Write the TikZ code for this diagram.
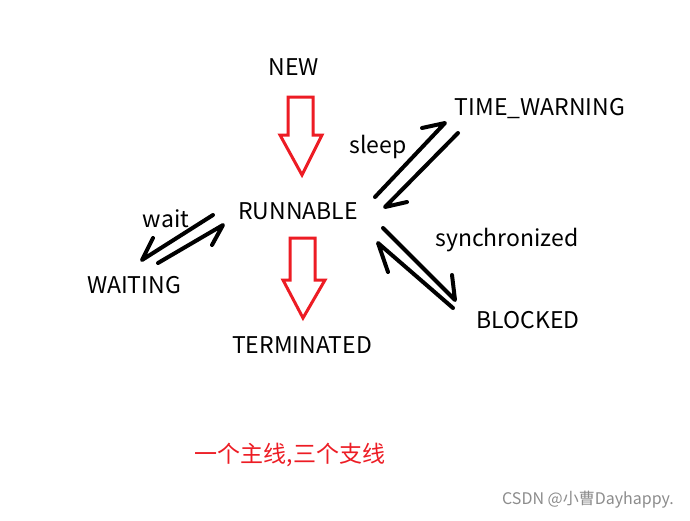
\documentclass[tikz,border=0pt]{standalone}
\usepackage{fontspec}
\setmainfont{Noto Sans CJK SC}
\newfontfamily\cjk{Noto Sans CJK SC}
\begin{document}
\begin{tikzpicture}[x=1pt,y=-1pt,
  lbl/.style={inner sep=0pt,font=\fontsize{23}{26}\selectfont},
  harp/.style={line width=4pt,line cap=round,line join=round},
  hollow/.style={draw={rgb,255:red,237;green,28;blue,36},line width=3pt,line join=miter}]
\useasboundingbox (0,0) rectangle (690,520);
\fill[white] (0,0) rectangle (690,520);
\node[lbl] (new) at (294,67) {NEW};
\node[lbl] (tw) at (540,109) {TIME\_WARNING};
\node[lbl] (sleep) at (378,147) {sleep};
\node[lbl] (run) at (298,211) {RUNNABLE};
\node[lbl] (wait) at (166,219) {wait};
\node[lbl] (wt) at (134,285) {WAITING};
\node[lbl] (sync) at (507,240) {synchronized};
\node[lbl] (blk) at (528,320) {BLOCKED};
\node[lbl] (term) at (302,345) {TERMINATED};
\node[lbl,text={rgb,255:red,237;green,28;blue,36}] (note) at (290,455) {\cjk 一个主线,三个支线};
\node[inner sep=0pt,text=gray!90,font=\fontsize{16}{18}\selectfont] (wm) at (588,500) {CSDN @小曹Dayhappy.};
% red hollow arrows
\draw[hollow] (288,97)--(313,97)--(313,135)--(322,135)--(302,175)--(280,135)--(288,135)--cycle;
\draw[hollow] (290,238)--(315,238)--(315,280)--(325,280)--(303,318)--(283,280)--(290,280)--cycle;
% black harpoons
\draw[harp] (375,197)--(445,123)--(422,128);
\draw[harp] (458,133)--(385,207)--(407,202);
\draw[harp] (213,215)--(142,260)--(153,238);
\draw[harp] (158,263)--(223,225)--(212,245);
\draw[harp] (383,228)--(455,300)--(452,275);
\draw[harp] (453,308)--(378,243)--(388,272);
\end{tikzpicture}
\end{document}
